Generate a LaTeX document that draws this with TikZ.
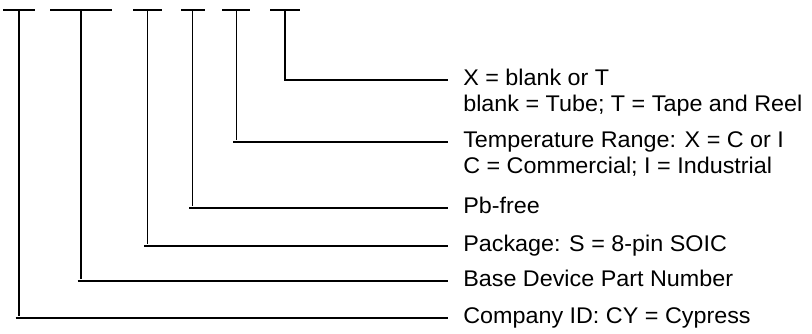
\documentclass[tikz,border=0pt]{standalone}
\usepackage{fontspec}
\setmainfont{Liberation Sans}[FakeStretch=1.03]
\tikzset{
  bar/.style={line width=1.5pt},
  wire/.style={line width=1.4pt},
  lbl/.style={anchor=base west,inner sep=0pt,align=left,font=\fontsize{17}{19.5}\selectfont}
}
\begin{document}
\begin{tikzpicture}[x=0.75pt,y=0.75pt,yscale=-1,xscale=1]
\useasboundingbox (0,0) rectangle (812,333);

%Straight Lines (field bars)
\draw [bar] (3,10) -- (35,10) ;
\draw [bar] (50,10) -- (112,10) ;
\draw [bar] (133,10) -- (162,10) ;
\draw [bar] (181,10) -- (205,10) ;
\draw [bar] (222,10) -- (250,10) ;
\draw [bar] (270,10) -- (300,10) ;

% field tops
\coordinate (t1) at (19,10) ;
\coordinate (t2) at (81,10) ;
\coordinate (t3) at (147.5,10) ;
\coordinate (t4) at (192.5,10) ;
\coordinate (t5) at (236.5,10) ;
\coordinate (t6) at (285,10) ;
% corners
\coordinate (c1) at (19,318) ;
\coordinate (c2) at (81,281) ;
\coordinate (c3) at (147.5,246) ;
\coordinate (c4) at (192.5,208) ;
\coordinate (c5) at (236.5,142) ;
\coordinate (c6) at (285,80) ;
% line ends
\coordinate (e1) at (448,318) ;
\coordinate (e2) at (448,281) ;
\coordinate (e3) at (448,246) ;
\coordinate (e4) at (448,208) ;
\coordinate (e5) at (448,142) ;
\coordinate (e6) at (448,80) ;

% Text Node
\node [lbl] (l1) at (463,323) {Company ID: CY = Cypress};
% Text Node
\node [lbl] (l2) at (463,286) {Base Device Part Number};
% Text Node
\node [lbl] (l3) at (463,251) {Package: S = 8-pin SOIC};
% Text Node
\node [lbl] (l4) at (463,213) {Pb-free};
% Text Node (base is the second line)
\node [lbl] (l5) at (463,173) {Temperature Range: X = C or I\\C = Commercial; I = Industrial};
% Text Node (base is the second line)
\node [lbl] (l6) at (463,111) {X = blank or T\\blank = Tube; T = Tape and Reel};

%Straight Lines
\draw [wire] (t1) -- ([yshift=-1.5pt]c1) ;
\draw [wire] ([xshift=-2.5pt]c1) -- (e1) ;
%Straight Lines
\draw [wire] (t2) -- ([yshift=-1.5pt]c2) ;
\draw [wire] ([xshift=-2.5pt]c2) -- (e2) ;
%Straight Lines
\draw [wire] (t3) -- ([yshift=-1.5pt]c3) ;
\draw [wire] ([xshift=-2.5pt]c3) -- (e3) ;
%Straight Lines
\draw [wire] (t4) -- ([yshift=-1.5pt]c4) ;
\draw [wire] ([xshift=-2.5pt]c4) -- (e4) ;
%Straight Lines
\draw [wire] (t5) -- ([yshift=-1.5pt]c5) ;
\draw [wire] ([xshift=-2.5pt]c5) -- (e5) ;
%Straight Lines
\draw [wire] (t6) |- (e6) ;

\end{tikzpicture}
\end{document}
